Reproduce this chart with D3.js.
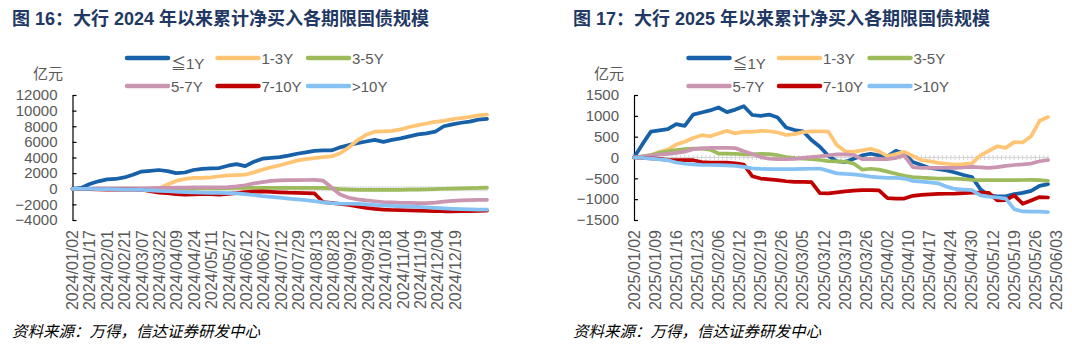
<!DOCTYPE html>
<html><head><meta charset="utf-8">
<script src="https://cdn.jsdelivr.net/npm/d3@7"></script>
<style>body{margin:0;background:#fff}svg{display:block}</style>
</head><body>
<svg id="c" width="1072" height="351"></svg>
<script>
// ---------- data ----------
const seriesNames = ["≦1Y", "1-3Y", "3-5Y", "5-7Y", "7-10Y", ">10Y"];
const seriesColors = ["#1661a8", "#ffc574", "#9dbb5b", "#c995b0", "#c00000", "#85c1f3"];

// chart 16 (2024): 263 trading days, labels every 11 days, values sampled at 49 even steps
const days2024 = 263;
const labelEvery2024 = 11;
const ticks2024 = ["2024/01/02","2024/01/17","2024/02/01","2024/02/21","2024/03/07","2024/03/22","2024/04/09","2024/04/24","2024/05/11","2024/05/27","2024/06/12","2024/06/27","2024/07/12","2024/07/29","2024/08/13","2024/08/28","2024/09/12","2024/09/29","2024/10/18","2024/11/04","2024/11/19","2024/12/04","2024/12/19"];
const le1Y_2024 = [0,100,600,950,1200,1250,1450,1800,2200,2290,2400,2250,2000,2080,2400,2550,2600,2650,2950,3150,2900,3450,3850,3950,4050,4250,4480,4650,4850,4900,4900,5300,5600,5850,6050,6250,6000,6250,6450,6700,6950,7100,7300,8000,8250,8450,8600,8850,8950];
const y1to3_2024 = [0,0,-30,-50,-50,-50,-50,-50,-50,0,0,550,1000,1250,1400,1380,1450,1600,1700,1750,1800,2100,2450,2750,3000,3300,3600,3800,3920,4050,4130,4550,5300,6200,6900,7300,7350,7420,7600,7900,8150,8350,8550,8700,8900,9050,9200,9400,9500];
const y3to5_2024 = [0,0,0,0,0,0,0,0,0,0,0,0,0,0,0,50,50,50,80,100,100,120,120,120,120,120,120,120,120,100,50,-50,-100,-150,-150,-150,-150,-150,-150,-120,-100,-80,-50,0,20,50,80,100,150];
const y5to7_2024 = [0,0,30,50,50,50,50,50,50,80,100,120,150,150,170,180,180,180,200,300,450,680,850,1020,1080,1100,1100,1120,1130,1050,150,-750,-1150,-1350,-1500,-1600,-1700,-1750,-1800,-1820,-1830,-1830,-1780,-1650,-1550,-1480,-1450,-1420,-1420];
const y7to10_2024 = [0,-30,-50,-80,-100,-100,-100,-120,-130,-300,-500,-550,-700,-760,-720,-680,-700,-760,-650,-550,-430,-380,-350,-400,-450,-500,-520,-550,-580,-1700,-1800,-1950,-2080,-2250,-2450,-2580,-2680,-2720,-2750,-2780,-2800,-2820,-2850,-2880,-2880,-2870,-2850,-2820,-2800];
const over10_2024 = [0,0,-20,-50,-60,-80,-100,-120,-130,-200,-280,-320,-380,-420,-450,-500,-520,-540,-560,-600,-680,-800,-950,-1050,-1150,-1250,-1350,-1450,-1580,-1750,-1850,-1900,-1920,-1950,-2000,-2080,-2150,-2200,-2250,-2280,-2330,-2380,-2450,-2520,-2580,-2620,-2650,-2660,-2670];
const yTicks2024 = [-4000,-2000,0,2000,4000,6000,8000,10000,12000];

// chart 17 (2025): 99 trading days, labels every 5 days, values every 2 days
const days2025 = 99;
const labelEvery2025 = 5;
const ticks2025 = ["2025/01/02","2025/01/09","2025/01/16","2025/01/23","2025/02/06","2025/02/12","2025/02/19","2025/02/26","2025/03/05","2025/03/12","2025/03/19","2025/03/26","2025/04/02","2025/04/10","2025/04/17","2025/04/24","2025/04/30","2025/05/12","2025/05/19","2025/05/26","2025/06/03"];
const le1Y_2025 = [0,320,620,650,680,800,760,1030,1080,1130,1200,1090,1150,1230,1020,1000,1030,960,720,660,630,420,260,40,-90,-110,-30,50,90,50,20,160,90,-110,-180,-250,-280,-310,-360,-420,-470,-760,-910,-930,-930,-880,-850,-800,-680,-640];
const y1to3_2025 = [0,20,55,130,190,310,380,470,535,510,575,640,580,620,615,640,630,600,540,560,610,625,630,620,300,150,135,170,210,150,30,80,135,40,-65,-90,-130,-150,-170,-160,-140,50,160,270,230,370,360,510,880,970];
const y3to5_2025 = [0,30,60,110,150,180,200,215,215,190,95,95,85,75,75,90,80,55,10,-15,-30,-40,-60,-85,-95,-100,-145,-290,-270,-290,-340,-390,-440,-470,-485,-495,-505,-505,-505,-520,-535,-545,-545,-545,-545,-545,-540,-535,-545,-560];
const y5to7_2025 = [0,20,45,70,85,110,140,200,220,230,230,230,225,150,85,10,-30,-40,-40,-35,-10,10,30,50,75,75,60,-40,-40,-40,-40,-10,50,-230,-250,-250,-250,-250,-250,-240,-225,-235,-250,-230,-200,-180,-165,-145,-90,-60];
const y7to10_2025 = [0,-10,-20,-35,-55,-65,-65,-65,-110,-120,-120,-125,-140,-170,-450,-505,-525,-545,-570,-585,-585,-590,-855,-860,-835,-815,-795,-785,-785,-790,-975,-985,-985,-920,-895,-885,-875,-870,-865,-855,-845,-840,-850,-1030,-1025,-910,-1110,-1030,-950,-960];
const over10_2025 = [0,-10,-25,-45,-65,-120,-150,-165,-175,-180,-185,-190,-200,-225,-260,-275,-280,-280,-280,-280,-275,-270,-265,-320,-380,-395,-405,-430,-460,-475,-490,-490,-505,-560,-580,-595,-620,-700,-755,-770,-785,-910,-940,-960,-985,-1240,-1295,-1300,-1300,-1310];
const yTicks2025 = [-1500,-1000,-500,0,500,1000,1500];

// ---------- drawing ----------
const LATIN = "'Liberation Sans', Arial, 'Noto Sans CJK SC', sans-serif";
const CJK = "'Noto Sans CJK SC', 'Liberation Sans', sans-serif";
const svg = d3.select("#c");

function drawChart(o) {
  const g = svg.append("g");
  const x = d3.scaleLinear().domain([0, o.n - 1]).range([o.left, o.right]);
  const y = d3.scaleLinear().domain([o.yTicks[0], o.yTicks[o.yTicks.length - 1]]).range([220, 95]);
  const sampleStep = (o.n - 1) / (o.series[0].length - 1);

  // title
  g.append("text").attr("x", o.tx).attr("y", 25)
    .attr("font-family", LATIN).attr("font-size", 18).attr("font-weight", "bold")
    .attr("fill", "#1f3864").text(o.title);

  // unit
  g.append("text").attr("x", o.tx + 21).attr("y", 72).attr("dominant-baseline", "central")
    .attr("font-family", CJK).attr("font-size", 15).attr("fill", "#595959").text("亿元");

  // zero axis with dense category ticks
  g.append("line").attr("x1", x(0)).attr("x2", x(o.n - 1)).attr("y1", y(0)).attr("y2", y(0))
    .attr("stroke", "#d4d4d4").attr("stroke-width", 1);
  g.append("g").selectAll("line").data(d3.range(o.n)).join("line")
    .attr("x1", d => x(d)).attr("x2", d => x(d))
    .attr("y1", y(0) - 2.5).attr("y2", y(0) + 2.5)
    .attr("stroke", "#d4d4d4").attr("stroke-width", 1);

  // y axis
  const ya = d3.axisLeft(y).tickValues(o.yTicks).tickSize(-4).tickSizeOuter(0).tickPadding(15)
    .tickFormat(d3.format("d"));
  const yg = g.append("g").attr("transform", `translate(${o.left},0)`).call(ya);
  yg.select(".domain").attr("stroke", "#000").attr("stroke-width", 1.2);
  yg.selectAll(".tick line").attr("stroke", "#000").attr("stroke-width", 1.2);
  yg.selectAll(".tick text").attr("font-family", LATIN).attr("font-size", 15).attr("fill", "#595959");

  // x labels
  g.append("g").selectAll("text").data(o.tickLabels).join("text")
    .attr("transform", (d, i) => `translate(${x(i * o.labelEvery)},230) rotate(-90)`)
    .attr("text-anchor", "end").attr("dominant-baseline", "central")
    .attr("font-family", LATIN).attr("font-size", 16).attr("fill", "#595959")
    .text(d => d);

  // series lines
  const line = d3.line().x((d, j) => x(j * sampleStep)).y(d => y(d));
  o.series.forEach((s, k) => {
    g.append("path").attr("d", line(s)).attr("fill", "none")
      .attr("stroke", seriesColors[k]).attr("stroke-width", 3.75)
      .attr("stroke-linejoin", "round").attr("stroke-linecap", "round");
  });

  // legend
  seriesNames.forEach((name, k) => {
    const row = Math.floor(k / 3), col = k % 3;
    const lx = o.left + 54.5 + col * 90.5;
    const ly = 58 + row * 28;
    g.append("line").attr("x1", lx).attr("x2", lx + 41).attr("y1", ly).attr("y2", ly)
      .attr("stroke", seriesColors[k]).attr("stroke-width", 4.5).attr("stroke-linecap", "round");
    g.append("text").attr("x", lx + 44).attr("y", ly + (k === 0 ? 5 : 0))
      .attr("dominant-baseline", "central")
      .attr("font-family", LATIN).attr("font-size", 15).attr("fill", "#595959").text(name);
  });

  // source
  g.append("text").attr("x", o.tx).attr("y", 337)
    .attr("font-family", CJK).attr("font-size", 15.5).attr("font-style", "italic")
    .attr("fill", "#000").text("资料来源：万得，信达证券研发中心");
}

drawChart({
  title: "图 16：大行 2024 年以来累计净买入各期限国债规模",
  tx: 12, left: 72.5, right: 487,
  n: days2024, labelEvery: labelEvery2024, tickLabels: ticks2024, yTicks: yTicks2024,
  series: [le1Y_2024, y1to3_2024, y3to5_2024, y5to7_2024, y7to10_2024, over10_2024]
});
drawChart({
  title: "图 17：大行 2025 年以来累计净买入各期限国债规模",
  tx: 573, left: 634, right: 1048,
  n: days2025, labelEvery: labelEvery2025, tickLabels: ticks2025, yTicks: yTicks2025,
  series: [le1Y_2025, y1to3_2025, y3to5_2025, y5to7_2025, y7to10_2025, over10_2025]
});
</script>
</body></html>
